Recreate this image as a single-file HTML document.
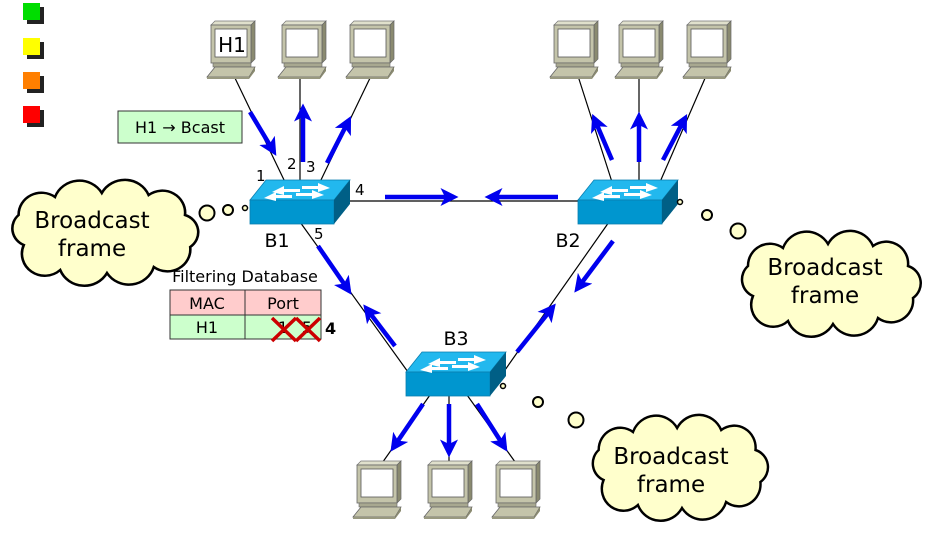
<!DOCTYPE html>
<html><head><style>
html,body{margin:0;padding:0;background:#fff;}
svg{display:block;font-family:"DejaVu Sans","Liberation Sans",sans-serif;}
</style></head><body>
<svg width="937" height="536" viewBox="0 0 937 536" xmlns="http://www.w3.org/2000/svg">
<defs>
<g id="pc">
  <polygon points="4,0 44,0 48,-4 8,-4" fill="#e0e0cc" stroke="#777" stroke-width="0.7"/>
  <polygon points="44,0 48,-4 48,34 44,38" fill="#8a8a70" stroke="#666" stroke-width="0.7"/>
  <rect x="4" y="0" width="40" height="38" fill="#c4c4aa" stroke="#666" stroke-width="0.8"/>
  <rect x="8" y="4" width="32" height="28" fill="#fff" stroke="#555" stroke-width="0.8"/>
  <rect x="6" y="38" width="38" height="4" fill="#a8a890" stroke="#666" stroke-width="0.6"/>
  <polygon points="8,42 48,42 42,52 0,52" fill="#c4c4aa" stroke="#666" stroke-width="0.8"/>
  <polygon points="48,42 48,46 42,54 42,52" fill="#8a8a70"/>
  <rect x="0" y="52" width="42" height="2" fill="#999980"/>
</g>
<g id="sw">
  <polygon points="0,20 16,0 100,0 84,20" fill="#22b8ee" stroke="#0a7fb0" stroke-width="0.8"/>
  <rect x="0" y="20" width="84" height="24" fill="#0096cf" stroke="#0a7fb0" stroke-width="0.8"/>
  <polygon points="84,20 100,0 100,24 84,44" fill="#005f86"/>
  <polygon points="22,12 34,6 34,9 50,9 50,12 34,12 34,15" fill="#fff"/>
  <polygon points="80,8 68,3 68,6 52,6 52,9 68,9 68,12" fill="#fff"/>
  <polygon points="14,18 26,12 26,15 42,15 42,18 26,18 26,21" fill="#fff"/>
  <polygon points="74,15 62,10 62,13 46,13 46,16 62,16 62,19" fill="#fff"/>
</g>
<path id="cloud" d="M20,60 A18,18 0 0,1 15,30 A22,22 0 0,1 50,12 A25,25 0 0,1 95,8 A25,25 0 0,1 140,10 A22,22 0 0,1 175,30 A18,18 0 0,1 180,62 A22,22 0 0,1 145,82 A25,25 0 0,1 100,88 A25,25 0 0,1 55,85 A22,22 0 0,1 20,60 Z" fill="#ffffcc" stroke="#000" stroke-width="2.5"/>
<marker id="ah" markerWidth="4" markerHeight="4" refX="3" refY="2" orient="auto"><polygon points="0,0 4,2 0,4 1,2" fill="#0000ee"/></marker>
</defs>

<rect x="27" y="7" width="17" height="17" fill="#222"/><rect x="23" y="3" width="17" height="17" fill="#00dd00"/>
<rect x="27" y="42" width="17" height="17" fill="#222"/><rect x="23" y="38" width="17" height="17" fill="#ffff00"/>
<rect x="27" y="76" width="17" height="17" fill="#222"/><rect x="23" y="72" width="17" height="17" fill="#ff7f00"/>
<rect x="27" y="110" width="17" height="17" fill="#222"/><rect x="23" y="106" width="17" height="17" fill="#ff0000"/>

<g stroke="#000" stroke-width="1.2">
<line x1="234" y1="76" x2="285" y2="182"/>
<line x1="300" y1="76" x2="300" y2="182"/>
<line x1="371" y1="76" x2="320" y2="182"/>
<line x1="350" y1="201" x2="580" y2="201"/>
<line x1="578" y1="76" x2="612" y2="182"/>
<line x1="639" y1="76" x2="639" y2="182"/>
<line x1="706" y1="76" x2="660" y2="182"/>
<line x1="300" y1="222" x2="408" y2="372"/>
<line x1="609" y1="222" x2="505" y2="370"/>
<line x1="430" y1="395" x2="380" y2="466"/>
<line x1="449" y1="395" x2="449" y2="466"/>
<line x1="467" y1="395" x2="518" y2="466"/>
</g>

<g stroke="#0000ee" stroke-width="4.5" marker-end="url(#ah)">
<line x1="250" y1="112" x2="274" y2="152"/>
<line x1="303" y1="162" x2="303" y2="108"/>
<line x1="327" y1="163" x2="349" y2="120"/>
<line x1="385" y1="197" x2="454" y2="197"/>
<line x1="558" y1="197" x2="489" y2="197"/>
<line x1="612" y1="160" x2="594" y2="118"/>
<line x1="639" y1="162" x2="639" y2="116"/>
<line x1="663" y1="160" x2="685" y2="118"/>
<line x1="318" y1="246" x2="349" y2="291"/>
<line x1="395" y1="346" x2="366" y2="308"/>
<line x1="613" y1="241" x2="577" y2="289"/>
<line x1="517" y1="352" x2="553" y2="307"/>
<line x1="423" y1="404" x2="393" y2="448"/>
<line x1="449" y1="404" x2="449" y2="453"/>
<line x1="477" y1="404" x2="505" y2="448"/>
</g>

<use href="#pc" x="207" y="25"/>
<use href="#pc" x="278" y="25"/>
<use href="#pc" x="346" y="25"/>
<use href="#pc" x="550" y="25"/>
<use href="#pc" x="615" y="25"/>
<use href="#pc" x="683" y="25"/>
<use href="#pc" x="353" y="465"/>
<use href="#pc" x="424" y="465"/>
<use href="#pc" x="492" y="465"/>
<text x="232" y="52" font-size="20" text-anchor="middle" fill="#000">H1</text>

<use href="#sw" x="250" y="180"/>
<use href="#sw" x="578" y="180"/>
<use href="#sw" x="406" y="352"/>

<g font-size="19" fill="#000" text-anchor="middle">
<text x="277" y="247">B1</text>
<text x="568" y="247">B2</text>
<text x="456" y="345">B3</text>
</g>
<g font-size="15" fill="#000">
<text x="256" y="181">1</text>
<text x="287" y="169">2</text>
<text x="306" y="172">3</text>
<text x="355" y="195">4</text>
<text x="314" y="239">5</text>
</g>

<rect x="118" y="111" width="124" height="32" fill="#ccffcc" stroke="#333" stroke-width="1"/>
<text x="180" y="133" font-size="16" text-anchor="middle" fill="#000">H1 → Bcast</text>

<text x="245" y="282" font-size="16" text-anchor="middle" fill="#000">Filtering Database</text>
<rect x="170" y="290" width="75" height="25" fill="#ffcccc" stroke="#333"/>
<rect x="245" y="290" width="76" height="25" fill="#ffcccc" stroke="#333"/>
<rect x="170" y="315" width="75" height="24" fill="#ccffcc" stroke="#333"/>
<rect x="245" y="315" width="76" height="24" fill="#ccffcc" stroke="#333"/>
<g font-size="16" text-anchor="middle" fill="#000">
<text x="207" y="309">MAC</text><text x="283" y="309">Port</text>
<text x="207" y="333">H1</text><text x="283" y="333">1</text><text x="307" y="333">5</text>
</g>
<g stroke="#cc0000" stroke-width="3.5">
<line x1="272" y1="318" x2="296" y2="341"/><line x1="272" y1="341" x2="296" y2="318"/>
<line x1="296" y1="318" x2="320" y2="341"/><line x1="296" y1="341" x2="320" y2="318"/>
</g>
<text x="325" y="334" font-size="16" font-weight="bold" fill="#000">4</text>

<use href="#cloud" transform="translate(3,185) scale(1.04,1.0)"/>
<text x="92" y="228" font-size="23" text-anchor="middle">Broadcast</text>
<text x="92" y="256" font-size="23" text-anchor="middle">frame</text>
<circle cx="207" cy="213" r="7.5" fill="#ffffcc" stroke="#000" stroke-width="2"/>
<circle cx="228" cy="210" r="5" fill="#ffffcc" stroke="#000" stroke-width="2"/>
<circle cx="245" cy="208" r="2.5" fill="#ffffcc" stroke="#000" stroke-width="1.5"/>

<use href="#cloud" transform="translate(733,236) scale(1.0,1.0)"/>
<text x="825" y="275" font-size="23" text-anchor="middle">Broadcast</text>
<text x="825" y="303" font-size="23" text-anchor="middle">frame</text>
<circle cx="680" cy="202" r="2.5" fill="#ffffcc" stroke="#000" stroke-width="1.5"/>
<circle cx="707" cy="215" r="5" fill="#ffffcc" stroke="#000" stroke-width="2"/>
<circle cx="738" cy="231" r="7.5" fill="#ffffcc" stroke="#000" stroke-width="2"/>

<use href="#cloud" transform="translate(584,420) scale(0.98,1.0)"/>
<text x="671" y="464" font-size="23" text-anchor="middle">Broadcast</text>
<text x="671" y="492" font-size="23" text-anchor="middle">frame</text>
<circle cx="503" cy="386" r="2.5" fill="#ffffcc" stroke="#000" stroke-width="1.5"/>
<circle cx="538" cy="402" r="5" fill="#ffffcc" stroke="#000" stroke-width="2"/>
<circle cx="576" cy="420" r="7.5" fill="#ffffcc" stroke="#000" stroke-width="2"/>
</svg>
</body></html>
